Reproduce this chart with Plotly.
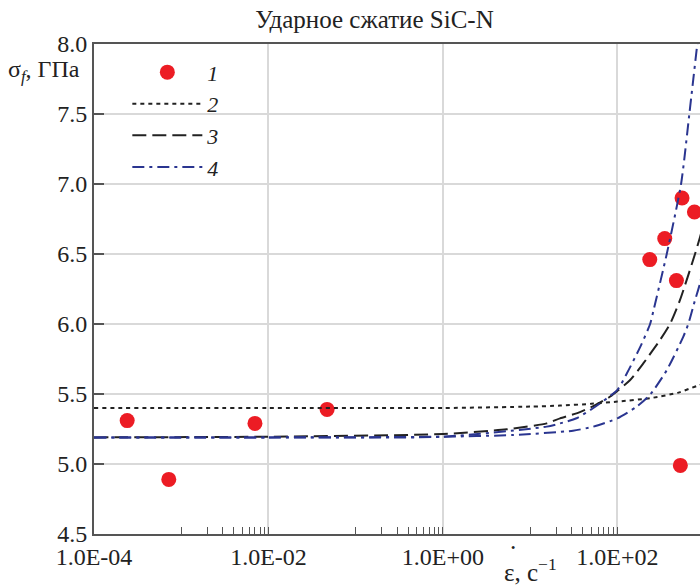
import plotly.graph_objects as go

# Experimental points (curve 1)
rate_exp = [2.4e-4, 7.2e-4, 7.0e-3, 4.7e-2, 235, 349, 475, 527, 551, 764]
sigma_exp = [5.31, 4.89, 5.29, 5.39, 6.46, 6.61, 6.31, 4.99, 6.90, 6.80]

# Curve 2 (dotted)
rate_2 = [1e-4, 1e-2, 1, 10, 22, 50, 100, 237, 500, 811, 1000]
sigma_2 = [5.40, 5.40, 5.40, 5.41, 5.417, 5.43, 5.446, 5.47, 5.51, 5.557, 5.575]

# Curve 3 (dashed)
rate_3 = [1e-4, 1e-2, 1, 5.4, 15.5, 22, 34, 53, 82, 140, 199, 308, 401, 521, 776, 885, 1000]
sigma_3 = [5.19, 5.195, 5.214, 5.248, 5.29, 5.326, 5.362, 5.414, 5.48, 5.60, 5.72, 5.886, 6.0, 6.17, 6.5, 6.62, 6.74]

# Curve 4 (dash-dot), upper branch
rate_4a = [1e-4, 1e-2, 1, 15.5, 22, 34, 53, 100, 129, 184, 237, 260, 368, 537, 668, 824, 1000]
sigma_4a = [5.19, 5.19, 5.195, 5.267, 5.29, 5.327, 5.40, 5.53, 5.65, 5.84, 6.0, 6.1, 6.5, 7.0, 7.5, 8.0, 8.45]

# Curve 4 (dash-dot), lower branch
rate_4b = [1e-4, 1e-2, 1, 6.4, 31, 53, 100, 167, 237, 368, 570, 650, 776, 885, 1000]
sigma_4b = [5.19, 5.19, 5.195, 5.207, 5.238, 5.267, 5.326, 5.41, 5.495, 5.67, 5.91, 6.0, 6.17, 6.29, 6.45]

x_tickvals = [1e-4, 1e-2, 1, 100]
x_ticktext = ["1.0E-04", "1.0E-02", "1.0E+00", "1.0E+02"]
x_minor = [m * 10.0 ** e for e in (-3, -1, 1) for m in range(1, 10)]

FONT = "Liberation Serif"
BLUE = "#2a3590"
RED = "#ec1c24"
TXT = "#222222"

fig = go.Figure()
fig.add_trace(go.Scatter(x=rate_exp, y=sigma_exp, mode="markers", name="1",
                         marker=dict(color=RED, size=15)))
fig.add_trace(go.Scatter(x=rate_2, y=sigma_2, mode="lines", name="2",
                         line=dict(color=TXT, width=2, dash="4px,4px", shape="spline", smoothing=0.6)))
fig.add_trace(go.Scatter(x=rate_3, y=sigma_3, mode="lines", name="3",
                         line=dict(color=TXT, width=2, dash="14px,6px", shape="spline", smoothing=0.6)))
fig.add_trace(go.Scatter(x=rate_4a, y=sigma_4a, mode="lines", name="4",
                         line=dict(color=BLUE, width=2, dash="12px,5px,3px,5px", shape="spline", smoothing=0.6)))
fig.add_trace(go.Scatter(x=rate_4b, y=sigma_4b, mode="lines", name="4", showlegend=False,
                         line=dict(color=BLUE, width=2, dash="12px,5px,3px,5px", shape="spline", smoothing=0.6)))

fig.update_layout(
    width=700, height=586,
    margin=dict(l=94, r=0, t=44, b=52, autoexpand=False),
    paper_bgcolor="white", plot_bgcolor="white",
    font=dict(family=FONT, size=24, color=TXT),
    title=dict(text="Ударное сжатие SiC-N", x=0.535, xanchor="center", y=0.968, yanchor="middle",
               font=dict(family=FONT, size=25, color=TXT)),
    showlegend=True,
    legend=dict(x=0.055, y=0.985, xanchor="left", yanchor="top", bgcolor="rgba(0,0,0,0)",
                font=dict(family=FONT, size=22, style="italic", color=TXT),
                tracegroupgap=0, itemwidth=70),
    xaxis=dict(type="log", range=[-4, 2.947], tickvals=x_tickvals, ticktext=x_ticktext,
               showgrid=True, gridcolor="#d9d9d9", gridwidth=2,
               showline=True, linecolor="#555555", linewidth=2, mirror=True,
               ticks="inside", ticklen=7, tickcolor="#555555", tickwidth=1,
               minor=dict(tickvals=x_minor, ticks="inside", ticklen=7, tickcolor="#555555",
                          tickwidth=1, showgrid=False),
               zeroline=False, tickfont=dict(family=FONT, size=24)),
    yaxis=dict(range=[4.5, 8.0], dtick=0.5, tickformat=".1f",
               showgrid=True, gridcolor="#d9d9d9", gridwidth=2,
               showline=True, linecolor="#555555", linewidth=2,
               ticks="inside", ticklen=10, tickcolor="#555555", tickwidth=2,
               zeroline=False, tickfont=dict(family=FONT, size=24)),
)

fig.add_annotation(text="σ<sub><i>f</i></sub>, ГПа", xref="paper", yref="paper",
                   x=-0.02, y=0.945, xanchor="right", yanchor="middle", showarrow=False,
                   font=dict(family=FONT, size=24, color=TXT))
fig.add_annotation(text="ε, с<sup>−1</sup>", xref="paper", yref="paper",
                   x=0.72, y=-0.074, xanchor="center", yanchor="middle", showarrow=False,
                   font=dict(family=FONT, size=25, color=TXT))
fig.add_annotation(text="·", xref="paper", yref="paper",
                   x=0.692, y=-0.028, xanchor="center", yanchor="middle", showarrow=False,
                   font=dict(family=FONT, size=25, color=TXT))

# Remove the browser's default page margin so the figure fills the 700x586 window exactly.
fig.write_html("out.html", config={"displayModeBar": False},
               post_script="document.body.style.margin='0';document.body.style.overflow='hidden';")
